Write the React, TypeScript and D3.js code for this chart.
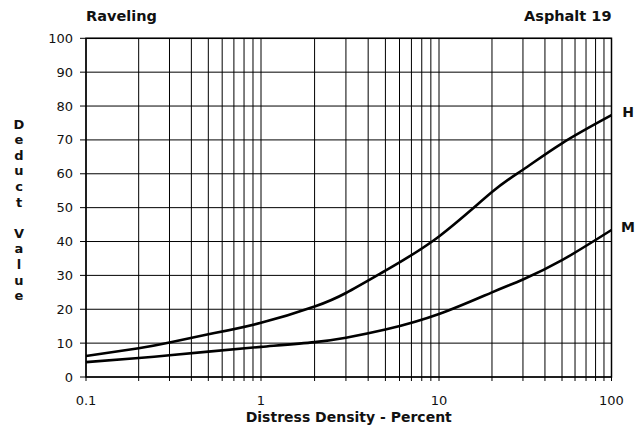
import React from "react";
import * as d3 from "d3";

const densityH = [0.1, 0.2, 0.3, 0.5, 1, 2, 3, 5, 10, 20, 30, 50, 100];
const valuesH = [6.2, 8.5, 10.2, 12.6, 16, 20.8, 24.8, 31.4, 41.5, 54.6, 61.2, 69, 77.3];
const densityM = [0.1, 0.2, 0.3, 0.5, 1, 2, 3, 5, 10, 20, 30, 50, 100];
const valuesM = [4.4, 5.6, 6.4, 7.5, 8.9, 10.3, 11.6, 14, 18.6, 25, 28.8, 34.5, 43.4];
const yTicks = [0, 10, 20, 30, 40, 50, 60, 70, 80, 90, 100];
const xLabelTicks = [0.1, 1, 10, 100];
const xTickLabels = ["0.1", "1", "10", "100"];
const yAxisLetters = ["D", "e", "d", "u", "c", "t", "", "V", "a", "l", "u", "e"];

export default function App() {
  const W = 637, H = 433;
  const left = 86, right = 611.5, top = 38.3, bottom = 377;
  const x = d3.scaleLog().domain([0.1, 1, 10, 50, 100]).range([left, 261, 439, 562, right]);
  const y = d3.scaleLinear().domain([0, 100]).range([bottom, top]);
  const xGrid: number[] = [];
  for (const dec of [0.1, 1, 10]) for (let k = 1; k <= 10; k++) xGrid.push(+(dec * k).toPrecision(3));
  const xs = Array.from(new Set(xGrid));
  const line = d3.line<[number, number]>().x(d => x(d[0])).y(d => y(d[1])).curve(d3.curveNatural);
  const pathH = line(densityH.map((d, i) => [d, valuesH[i]]));
  const pathM = line(densityM.map((d, i) => [d, valuesM[i]]));
  const font = "'DejaVu Sans', Verdana, sans-serif";
  return (
    <svg width={W} height={H} style={{ position: "absolute", left: 0, top: 0, background: "#fff" }} fontFamily={font}>
      <rect x={0} y={0} width={W} height={H} fill="#fff" />
      {xs.map(v => (
        <line key={"vx" + v} x1={x(v)} x2={x(v)} y1={top} y2={bottom + 4} stroke="#000" strokeWidth={1} />
      ))}
      {yTicks.map(v => (
        <line key={"hy" + v} x1={left - 6} x2={right} y1={y(v)} y2={y(v)} stroke="#000" strokeWidth={1} />
      ))}
      <rect x={left} y={top} width={right - left} height={bottom - top} fill="none" stroke="#000" strokeWidth={1.5} />
      <path d={pathH || ""} fill="none" stroke="#000" strokeWidth={2.6} />
      <path d={pathM || ""} fill="none" stroke="#000" strokeWidth={2.6} />
      {yTicks.map(v => (
        <text key={"ty" + v} x={73} y={y(v)} dy="0.35em" textAnchor="end" fontSize={13} fill="#111">{v}</text>
      ))}
      {xLabelTicks.map((v, i) => (
        <text key={"tx" + v} x={x(v)} y={405} textAnchor="middle" fontSize={13} fill="#111">{xTickLabels[i]}</text>
      ))}
      <text x={left} y={21} fontSize={14.5} fontWeight="bold" fill="#111">Raveling</text>
      <text x={right} y={21} textAnchor="end" fontSize={14.5} fontWeight="bold" fill="#111">Asphalt 19</text>
      <text x={(left + right) / 2} y={422} textAnchor="middle" fontSize={14} fontWeight="bold" fill="#111">Distress Density - Percent</text>
      {yAxisLetters.map((c, i) => (
        <text key={"yl" + i} x={19} y={124 + i * 15.6} dy="0.35em" textAnchor="middle" fontSize={13} fontWeight="bold" fill="#111">{c}</text>
      ))}
      <text x={628} y={112} dy="0.35em" textAnchor="middle" fontSize={14} fontWeight="bold" fill="#111">H</text>
      <text x={628} y={227} dy="0.35em" textAnchor="middle" fontSize={14} fontWeight="bold" fill="#111">M</text>
    </svg>
  );
}
